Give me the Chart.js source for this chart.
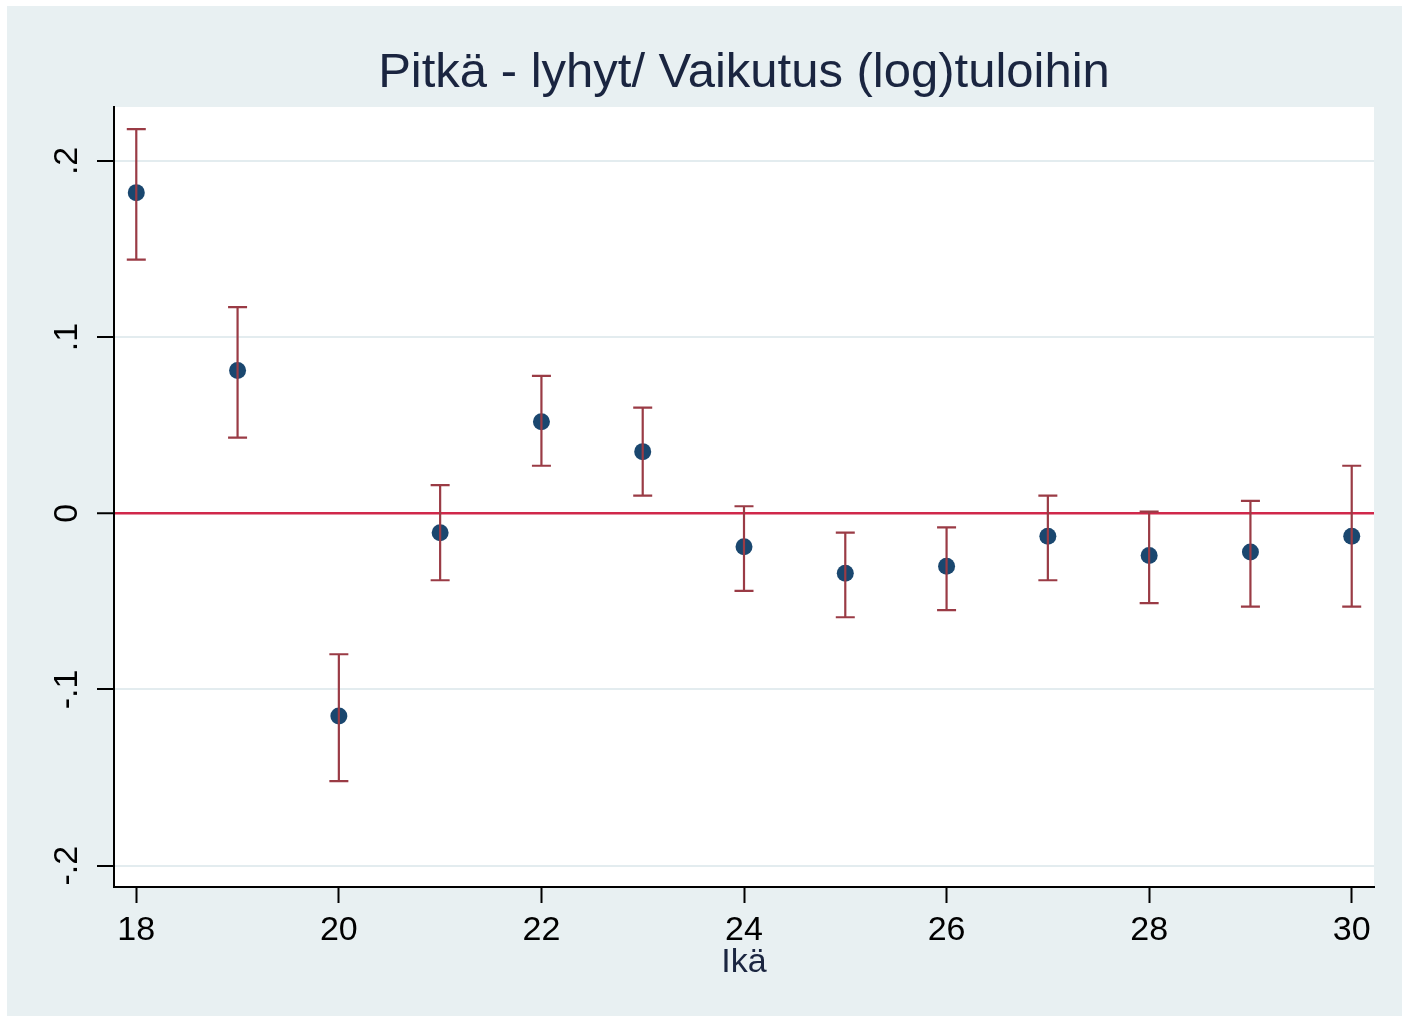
<!DOCTYPE html>
<html>
<head>
<meta charset="utf-8">
<script src="https://cdn.jsdelivr.net/npm/chart.js@4.4.1/dist/chart.umd.min.js"></script>
<style>
  html, body { margin: 0; padding: 0; background: #ffffff; }
  #wrap { position: absolute; left: 0; top: 0; width: 1402px; height: 1018px; }
</style>
</head>
<body>
<div id="wrap"><canvas id="c" width="1402" height="1018"></canvas></div>
<script>
// ---- data ----
const titleText = "Pitkä - lyhyt/ Vaikutus (log)tuloihin";
const xTitle = "Ikä";
const ages = [18, 19, 20, 21, 22, 23, 24, 25, 26, 27, 28, 29, 30];
const estimates = [0.182, 0.081, -0.115, -0.011, 0.052, 0.035, -0.019, -0.034, -0.030, -0.013, -0.024, -0.022, -0.013];
const upperCI = [0.218, 0.117, -0.080, 0.016, 0.078, 0.060, 0.004, -0.011, -0.008, 0.010, 0.001, 0.007, 0.027];
const lowerCI = [0.144, 0.043, -0.152, -0.038, 0.027, 0.010, -0.044, -0.059, -0.055, -0.038, -0.051, -0.053, -0.053];
const xTicks = [18, 20, 22, 24, 26, 28, 30];
const yTicks = [-0.2, -0.1, 0, 0.1, 0.2];
const yTickLabels = ["-.2", "-.1", "0", ".1", ".2"];
const refLineValue = 0;

// ---- styles ----
const FONT = "'Liberation Sans', Arial, sans-serif";
const NAVY = "#1a476f";
const MAROON = "#9a3b45";
const REDLINE = "#d0284a";
const GRID = "#e3ecef";
const BG = "#e8f0f2";

const bgPlugin = {
  id: 'bg',
  beforeDraw(chart) {
    const ctx = chart.ctx, a = chart.chartArea;
    ctx.save();
    ctx.fillStyle = '#ffffff';
    ctx.fillRect(0, 0, chart.width, chart.height);
    ctx.fillStyle = BG;
    ctx.fillRect(7, 6, chart.width - 7, chart.height - 8);
    ctx.fillStyle = '#ffffff';
    ctx.fillRect(a.left, a.top, a.right - a.left, a.bottom - a.top);
    ctx.restore();
  }
};

const errPlugin = {
  id: 'errbars',
  afterDatasetsDraw(chart) {
    const ctx = chart.ctx;
    const xs = chart.scales.x, ys = chart.scales.y;
    ctx.save();
    ctx.strokeStyle = MAROON;
    ctx.lineWidth = 2.2;
    const cap = 9.5;
    ages.forEach((a, i) => {
      const x = xs.getPixelForValue(a);
      const y1 = ys.getPixelForValue(upperCI[i]);
      const y2 = ys.getPixelForValue(lowerCI[i]);
      ctx.beginPath();
      ctx.moveTo(x, y1); ctx.lineTo(x, y2);
      ctx.moveTo(x - cap, y1); ctx.lineTo(x + cap, y1);
      ctx.moveTo(x - cap, y2); ctx.lineTo(x + cap, y2);
      ctx.stroke();
    });
    ctx.restore();
  }
};

new Chart(document.getElementById('c'), {
  type: 'scatter',
  data: {
    datasets: [{
      data: ages.map((a, i) => ({ x: a, y: estimates[i] })),
      backgroundColor: NAVY,
      borderWidth: 0,
      pointRadius: 8.5,
      pointHoverRadius: 8.5
    }]
  },
  options: {
    responsive: false,
    animation: false,
    events: [],
    layout: { padding: { left: 0, right: 28, top: 0, bottom: 0 } },
    plugins: {
      legend: { display: false },
      tooltip: { enabled: false },
      title: {
        display: true,
        text: titleText,
        fullSize: false,
        color: '#1a2540',
        font: { family: FONT, size: 49, weight: 'normal' },
        padding: { top: 44, bottom: 4.2 }
      }
    },
    scales: {
      x: {
        type: 'linear',
        min: 17.78,
        max: 30.22,
        afterBuildTicks: s => { s.ticks = xTicks.map(v => ({ value: v })); },
        afterFit: s => { s.height = 131; },
        grid: { drawOnChartArea: false, tickLength: 16, tickColor: '#000', tickWidth: 2 },
        border: { display: true, color: '#000', width: 2 },
        ticks: {
          color: '#000', font: { family: FONT, size: 34 }, padding: 7.5,
          maxRotation: 0, minRotation: 0, autoSkip: false,
          callback: v => String(v)
        },
        title: {
          display: true, text: xTitle, color: '#1a2540',
          font: { family: FONT, size: 34 }, padding: { top: 0, bottom: 35 }
        }
      },
      y: {
        type: 'linear',
        min: -0.2121,
        max: 0.2306,
        afterBuildTicks: s => { s.ticks = yTicks.map(v => ({ value: v })); },
        afterFit: s => { s.width = 114; },
        grid: {
          drawOnChartArea: true, tickLength: 17, tickColor: '#000', tickWidth: 2,
          color: c => (c.tick && Math.abs(c.tick.value - refLineValue) < 1e-9) ? REDLINE : GRID,
          lineWidth: c => (c.tick && Math.abs(c.tick.value - refLineValue) < 1e-9) ? 2.5 : 2
        },
        border: { display: true, color: '#000', width: 2 },
        ticks: {
          color: '#000', font: { family: FONT, size: 34 }, padding: 10,
          minRotation: 90, maxRotation: 90, crossAlign: 'center', autoSkip: false,
          callback: v => { const i = yTicks.findIndex(t => Math.abs(t - v) < 1e-9); return i >= 0 ? yTickLabels[i] : ''; }
        }
      }
    }
  },
  plugins: [bgPlugin, errPlugin]
});
</script>
</body>
</html>
